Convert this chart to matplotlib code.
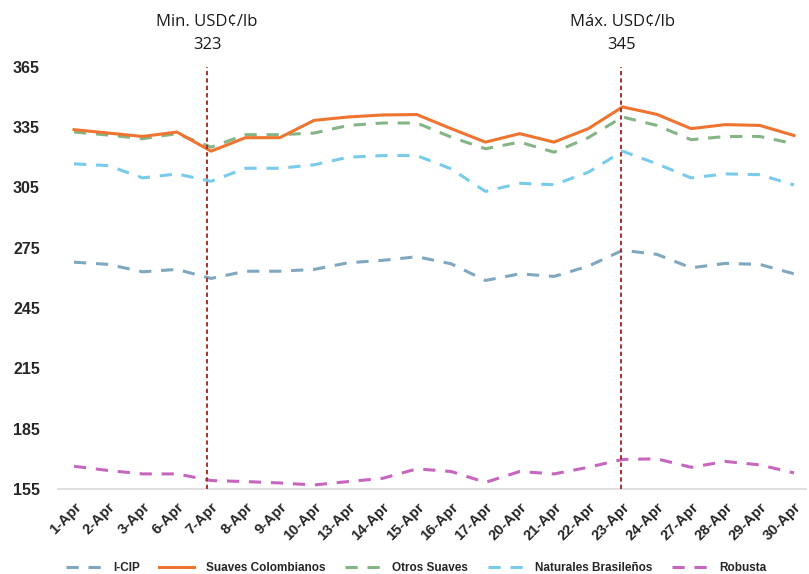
import matplotlib
matplotlib.use("Agg")
import matplotlib.pyplot as plt
from matplotlib import font_manager

dates = ["1-Apr", "2-Apr", "3-Apr", "6-Apr", "7-Apr", "8-Apr", "9-Apr", "10-Apr",
         "13-Apr", "14-Apr", "15-Apr", "16-Apr", "17-Apr", "20-Apr", "21-Apr",
         "22-Apr", "23-Apr", "24-Apr", "27-Apr", "28-Apr", "29-Apr", "30-Apr"]

icip = [267.8, 266.7, 263.0, 264.2, 259.7, 263.3, 263.3, 264.2, 267.5, 268.7, 270.5,
        267.0, 258.7, 262.0, 260.7, 265.8, 273.7, 271.7, 265.0, 267.2, 266.7, 262.0]
colombianos = [333.7, 332.0, 330.3, 332.5, 323.0, 329.7, 329.7, 338.3, 340.0, 341.0, 341.2,
               334.2, 327.5, 331.7, 327.5, 334.2, 345.0, 341.3, 334.2, 336.2, 335.8, 330.8]
otros = [332.5, 331.0, 329.2, 331.7, 325.0, 331.2, 331.2, 332.0, 335.8, 337.0, 337.0,
         330.0, 324.2, 327.5, 322.5, 329.7, 340.0, 335.8, 328.7, 330.3, 330.3, 326.7]
brasilenos = [316.7, 315.8, 309.7, 311.7, 308.0, 314.5, 314.5, 316.2, 320.0, 320.8, 320.8,
              314.2, 303.0, 307.0, 306.3, 312.5, 323.0, 316.7, 309.7, 311.7, 311.3, 306.2]
robusta = [166.3, 164.2, 162.5, 162.5, 159.2, 158.7, 158.0, 157.0, 158.7, 160.3, 165.0,
           163.7, 158.3, 163.7, 162.5, 165.8, 169.7, 170.0, 165.8, 168.7, 167.0, 163.0]

series_names = ["I-CIP", "Suaves Colombianos", "Otros Suaves", "Naturales Brasileños", "Robusta"]
yticks = [155, 185, 215, 245, 275, 305, 335, 365]

min_title, min_value = "Min. USD¢/lb", "323"
max_title, max_value = "Máx. USD¢/lb", "345"
min_idx = 4
max_idx = 16

avail = {f.name for f in font_manager.fontManager.ttflist}
narrow = "Liberation Sans Narrow" if "Liberation Sans Narrow" in avail else "Liberation Sans"

fig = plt.figure(figsize=(8.09, 5.74), dpi=100)
ax = fig.add_axes([58/809, (574-489)/574, (806-58)/809, (489-66.7)/574])

x = list(range(len(dates)))
ax.plot(x, icip, color="#7FA8C0", lw=2.2, dashes=(4, 3.2), label=series_names[0], zorder=3)
ax.plot(x, colombianos, color="#EE7430", lw=2.2, label=series_names[1], zorder=5)
ax.plot(x, otros, color="#85B584", lw=2.2, dashes=(4, 3.2), label=series_names[2], zorder=4)
ax.plot(x, brasilenos, color="#78CBEA", lw=2.2, dashes=(4, 3.2), label=series_names[3], zorder=3)
ax.plot(x, robusta, color="#C766BE", lw=2.2, dashes=(4, 3.2), label=series_names[4], zorder=3)

for idx in (min_idx - 0.12, max_idx - 0.04):
    ax.axvline(idx, color="#A5322C", lw=1.4, dashes=(2.2, 1.6), zorder=6)

ax.set_xlim(-0.467, 21.35)
ax.set_ylim(155, 365)
ax.set_yticks(yticks)
ax.set_xticks(x)
ax.set_xticklabels(dates, rotation=45, ha="right", va="top", rotation_mode="anchor",
                   fontsize=10.5, fontweight="bold", family=narrow)
for lab in ax.get_yticklabels():
    lab.set_fontweight("bold")
    lab.set_family(narrow)
    lab.set_fontsize(11.5)
ax.tick_params(axis="both", length=0, colors="#262626")
ax.tick_params(axis="y", pad=13)
ax.tick_params(axis="x", pad=8)
for s in ("top", "right", "left"):
    ax.spines[s].set_visible(False)
ax.spines["bottom"].set_color("#D9D9D9")
ax.spines["bottom"].set_linewidth(1.2)

for cx, t1, t2 in ((207, min_title, min_value), (622, max_title, max_value)):
    fig.text(cx/809, 1 - 22/574, t1, ha="center", va="center", fontsize=12,
             family="Open Sans", color="#1a1a1a")
    fig.text(cx/809, 1 - 45/574, t2, ha="center", va="center", fontsize=12,
             family="Open Sans", color="#1a1a1a")

leg = fig.legend(loc="center", bbox_to_anchor=(416/809, 1 - 568/574), ncol=5, frameon=False,
                 prop={"family": narrow, "weight": "bold", "size": 8.5},
                 handlelength=3.0, columnspacing=1.65, handletextpad=1.0)
for t in leg.get_texts():
    t.set_color("#262626")

fig.savefig("out.png", dpi=100)
